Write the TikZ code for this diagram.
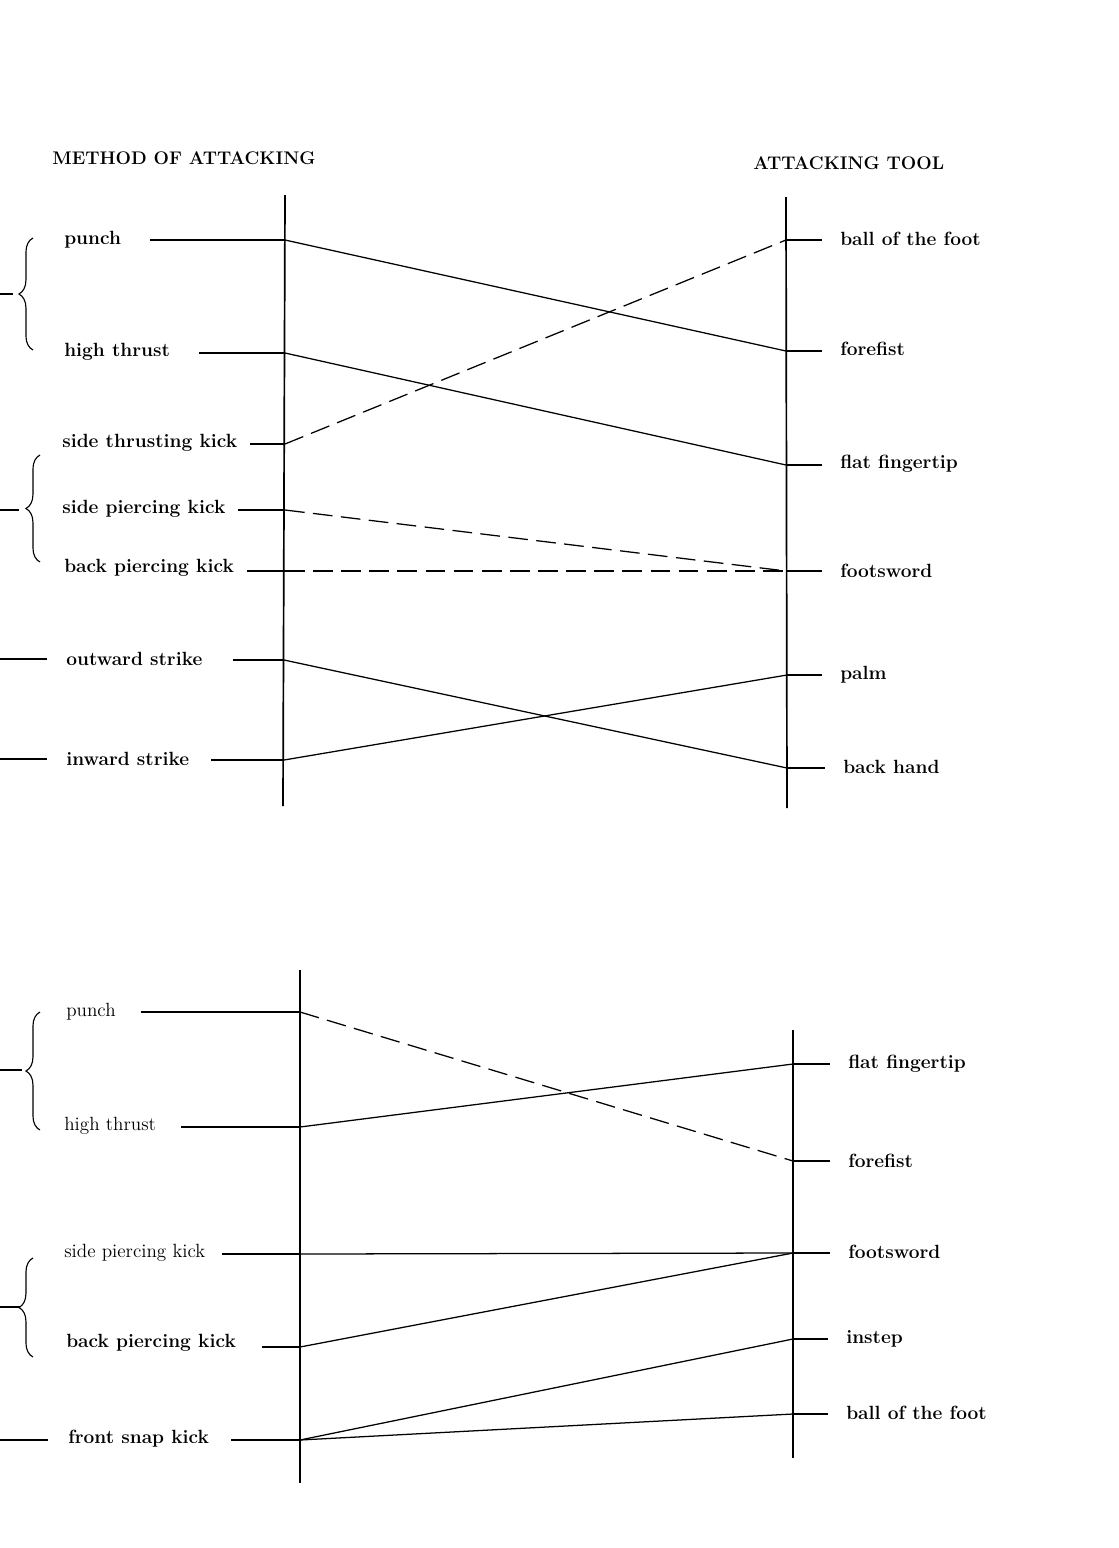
\documentclass[tikz,border=0pt]{standalone}
\usetikzlibrary{positioning,decorations.pathreplacing}

\begin{document}
\begin{tikzpicture}[
    x=0.025cm, y=-0.025cm,
    head/.style={font=\fontsize{13}{15}\selectfont\bfseries, anchor=west, inner sep=0pt},
    move/.style={font=\fontsize{13.6}{15}\selectfont\bfseries, anchor=west, inner sep=0pt},
    movelight/.style={font=\fontsize{13.6}{15}\selectfont, anchor=west, inner sep=0pt},
    tool/.style={font=\fontsize{13.6}{15}\selectfont\bfseries, anchor=west, inner sep=0pt},
    bar/.style={line width=1.2pt},
    stub/.style={line width=0.9pt},
    link/.style={line width=0.9pt},
    dlink/.style={line width=0.9pt, dash pattern=on 14pt off 6pt},
    grp/.style={decorate, decoration={brace, amplitude=10pt}, line width=0.8pt}
]
\useasboundingbox (0,0) rectangle (1119,1548);

% upper chart
\node[head] (hm) at (52,158) {METHOD OF ATTACKING};
\node[head] (ht) at (753,163) {ATTACKING TOOL};

\coordinate (lt) at (285,195);
\coordinate (lb) at (283,806);
\coordinate (rt) at (786,197);
\coordinate (rb) at (787,808);
\draw[bar] (lt) -- (lb);
\draw[bar] (rt) -- (rb);

\node[move] (m1) at (64,240) {punch};
\node[move] (m2) at (64,352) {high thrust};
\node[move] (m3) at (62,443) {side thrusting kick};
\node[move] (m4) at (62,509) {side piercing kick};
\node[move] (m5) at (64,568) {back piercing kick};
\node[move] (m6) at (66,659) {outward strike};
\node[move] (m7) at (66,759) {inward strike};

\coordinate (a1) at (285,240);
\coordinate (a2) at (285,353);
\coordinate (a3) at (285,444);
\coordinate (a4) at (285,510);
\coordinate (a5) at (285,571);
\coordinate (a6) at (284,660);
\coordinate (a7) at (284,760);

\node[tool] (t1) at (840,239) {ball of the foot};
\node[tool] (t2) at (840,349) {forefist};
\node[tool] (t3) at (840,464) {flat fingertip};
\node[tool] (t4) at (840,571) {footsword};
\node[tool] (t5) at (840,675) {palm};
\node[tool] (t6) at (843,767) {back hand};

\coordinate (b1) at (786,240);
\coordinate (b2) at (786,351);
\coordinate (b3) at (786,465);
\coordinate (b4) at (786,571);
\coordinate (b5) at (787,675);
\coordinate (b6) at (787,768);

\draw[stub] ([xshift=0.72cm]m1.east |- a1) -- (a1);
\draw[stub] ([xshift=0.72cm]m2.east |- a2) -- (a2);
\draw[stub] ([xshift=0.32cm]m3.east |- a3) -- (a3);
\draw[stub] ([xshift=0.32cm]m4.east |- a4) -- (a4);
\draw[stub] ([xshift=0.32cm]m5.east |- a5) -- (a5);
\draw[stub] ([xshift=0.75cm]m6.east |- a6) -- (a6);
\draw[stub] ([xshift=0.55cm]m7.east |- a7) -- (a7);

\draw[stub] (b1) -- ([xshift=-0.45cm]t1.west |- b1);
\draw[stub] (b2) -- ([xshift=-0.45cm]t2.west |- b2);
\draw[stub] (b3) -- ([xshift=-0.45cm]t3.west |- b3);
\draw[stub] (b4) -- ([xshift=-0.45cm]t4.west |- b4);
\draw[stub] (b5) -- ([xshift=-0.45cm]t5.west |- b5);
\draw[stub] (b6) -- ([xshift=-0.45cm]t6.west |- b6);

\draw[link] (a1) -- (b2);
\draw[link] (a2) -- (b3);
\draw[dlink] (a3) -- (b1);
\draw[dlink] (a4) -- (b4);
\draw[dlink] (a5) -- (b4);
\draw[link] (a6) -- (b6);
\draw[link] (a7) -- (b5);

% groups on the left edge
\draw[grp] (33,350) -- (33,238);
\coordinate (g1) at (13,294);
\draw[stub] (g1) -- +(-13,0);
\draw[grp] (40,562) -- (40,455);
\coordinate (g2) at (19,510);
\draw[stub] (g2) -- +(-19,0);
\coordinate (e6) at (47,659);
\draw[stub] (e6) -- +(-47,0);
\coordinate (e7) at (47,759);
\draw[stub] (e7) -- +(-47,0);

% lower chart
\coordinate (clt) at (300,970);
\coordinate (clb) at (300,1483);
\coordinate (crt) at (793,1030);
\coordinate (crb) at (793,1458);
\draw[bar] (clt) -- (clb);
\draw[bar] (crt) -- (crb);

\node[movelight] (n1) at (66,1012) {punch};
\node[movelight] (n2) at (64,1126) {high thrust};
\node[movelight] (n3) at (64,1253) {side piercing kick};
\node[move] (n4) at (66,1343) {back piercing kick};
\node[move] (n5) at (68,1439) {front snap kick};

\coordinate (c1) at (300,1012);
\coordinate (c2) at (300,1127);
\coordinate (c3) at (300,1254);
\coordinate (c4) at (300,1347);
\coordinate (c5) at (300,1440);

\node[tool] (u1) at (848,1064) {flat fingertip};
\node[tool] (u2) at (848,1161) {forefist};
\node[tool] (u3) at (848,1252) {footsword};
\node[tool] (u4) at (846,1339) {instep};
\node[tool] (u5) at (846,1413) {ball of the foot};

\coordinate (d1) at (793,1064);
\coordinate (d2) at (793,1161);
\coordinate (d3) at (793,1253);
\coordinate (d4) at (793,1339);
\coordinate (d5) at (793,1414);

\draw[stub] ([xshift=0.62cm]n1.east |- c1) -- (c1);
\draw[stub] ([xshift=0.62cm]n2.east |- c2) -- (c2);
\draw[stub] ([xshift=0.42cm]n3.east |- c3) -- (c3);
\draw[stub] ([xshift=0.65cm]n4.east |- c4) -- (c4);
\draw[stub] ([xshift=0.55cm]n5.east |- c5) -- (c5);

\draw[stub] (d1) -- ([xshift=-0.45cm]u1.west |- d1);
\draw[stub] (d2) -- ([xshift=-0.45cm]u2.west |- d2);
\draw[stub] (d3) -- ([xshift=-0.45cm]u3.west |- d3);
\draw[stub] (d4) -- ([xshift=-0.45cm]u4.west |- d4);
\draw[stub] (d5) -- ([xshift=-0.45cm]u5.west |- d5);

\draw[dlink] (c1) -- (d2);
\draw[link] (c2) -- (d1);
\draw[link] (c3) -- (d3);
\draw[link] (c4) -- (d3);
\draw[link] (c5) -- (d4);
\draw[link] (c5) -- (d5);

\draw[grp] (40,1130) -- (40,1012);
\coordinate (g3) at (22,1070);
\draw[stub] (g3) -- +(-22,0);
\draw[grp] (33,1357) -- (33,1258);
\coordinate (g4) at (20,1307);
\draw[stub] (g4) -- +(-20,0);
\coordinate (e5) at (48,1440);
\draw[stub] (e5) -- +(-48,0);
\end{tikzpicture}
\end{document}
